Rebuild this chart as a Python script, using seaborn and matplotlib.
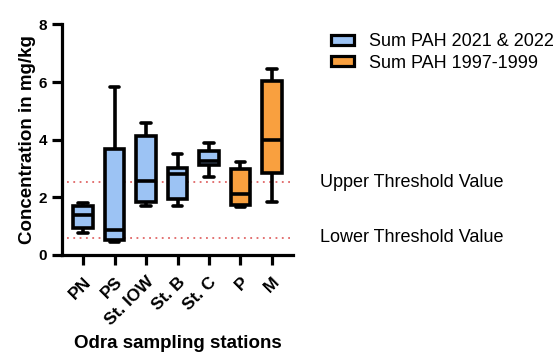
import matplotlib
matplotlib.use("Agg")
import matplotlib.pyplot as plt
import numpy as np
import seaborn as sns
import pandas as pd

# estaciones y valores (min, q1, mediana, q3, max)
estaciones = ["PN", "PS", "St. IOW", "St. B", "St. C", "P", "M"]
periodos = ["Sum PAH 2021 & 2022", "Sum PAH 2021 & 2022", "Sum PAH 2021 & 2022",
            "Sum PAH 2021 & 2022", "Sum PAH 2021 & 2022", "Sum PAH 1997-1999",
            "Sum PAH 1997-1999"]
pn = [0.77, 0.95, 1.39, 1.70, 1.79]
ps = [0.43, 0.52, 0.87, 3.68, 5.82]
iow = [1.68, 1.85, 2.57, 4.13, 4.59]
stb = [1.68, 1.93, 2.81, 3.03, 3.49]
stc = [2.72, 3.12, 3.26, 3.62, 3.87]
p = [1.65, 1.73, 2.12, 2.97, 3.24]
m = [1.85, 2.83, 3.99, 6.05, 6.47]
umbral_sup = 2.52
umbral_inf = 0.60

valores = [pn, ps, iow, stb, stc, p, m]

filas = []
for est, per, vals in zip(estaciones, periodos, valores):
    for v in vals:
        filas.append({"Estacion": est, "Periodo": per, "Valor": v})
df = pd.DataFrame(filas)

sns.set_style("ticks")
plt.rcParams['font.family'] = ['Liberation Sans', 'DejaVu Sans']
plt.rcParams['text.color'] = 'black'
plt.rcParams['axes.labelcolor'] = 'black'
plt.rcParams['xtick.color'] = 'black'
plt.rcParams['ytick.color'] = 'black'
plt.rcParams['axes.edgecolor'] = 'black'

fig = plt.figure(figsize=(5.53, 3.54), dpi=100)
ax = fig.add_axes([0.112, 0.280, 0.418, 0.651])

colores = {"Sum PAH 2021 & 2022": "#9cc3f4", "Sum PAH 1997-1999": "#f9a03f"}
sns.boxplot(data=df, x="Estacion", y="Valor", hue="Periodo", order=estaciones,
            palette=colores, dodge=False, whis=(0, 100), width=0.63,
            linewidth=2.6, linecolor="black", saturation=1, ax=ax, legend=False)

ax.axhline(umbral_sup, xmin=0.02, xmax=1, color="#e06666", ls=(0, (1, 2.5)), lw=1.3, zorder=0)
ax.axhline(umbral_inf, xmin=0.02, xmax=1, color="#e06666", ls=(0, (1, 2.5)), lw=1.3, zorder=0)

ax.set_ylim(0, 8)
ax.set_xlim(-0.67, 6.67)
ax.set_yticks([0, 2, 4, 6, 8])
for s in ["top", "right"]:
    ax.spines[s].set_visible(False)
for s in ["left", "bottom"]:
    ax.spines[s].set_linewidth(2.3)
ax.tick_params(width=2.3, length=7, labelsize=11)
ax.tick_params(axis="x", pad=7)
for lab in ax.get_yticklabels():
    lab.set_fontweight("bold")
ax.set_xticks(range(len(estaciones)))
ax.set_xticklabels(estaciones, rotation=45, ha="right", rotation_mode="anchor",
                   fontweight="bold", fontsize=12.5)

ax.set_ylabel("Concentration in mg/kg", fontsize=13.5, fontweight="bold", labelpad=2)
ax.set_xlabel("Odra sampling stations", fontsize=13.5, fontweight="bold")
ax.xaxis.label.set_va("center")
ax.xaxis.set_label_coords(0.5, -0.386)

ax.text(1.117, umbral_sup, "Upper Threshold Value", transform=ax.get_yaxis_transform(),
        va="center", ha="left", fontsize=13, clip_on=False)
ax.text(1.117, umbral_inf, "Lower Threshold Value", transform=ax.get_yaxis_transform(),
        va="center", ha="left", fontsize=13, clip_on=False)

handles = [plt.Rectangle((0, 0), 1, 1, facecolor=colores[k], edgecolor="black", lw=2.3)
           for k in ["Sum PAH 2021 & 2022", "Sum PAH 1997-1999"]]
fig.legend(handles, ["Sum PAH 2021 & 2022", "Sum PAH 1997-1999"], loc="upper left",
           bbox_to_anchor=(0.57, 0.952), frameon=False, fontsize=13,
           handlelength=1.25, handleheight=0.45, handletextpad=0.85, labelspacing=0.25)

fig.savefig("out.png", dpi=100)
